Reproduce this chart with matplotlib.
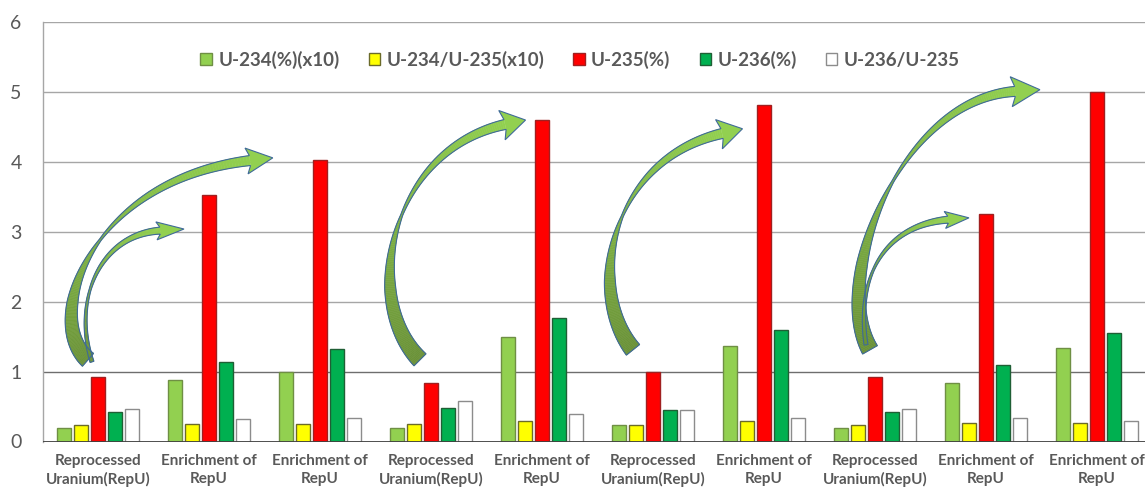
import numpy as np
import matplotlib
matplotlib.use("Agg")
import matplotlib.pyplot as plt
from matplotlib.collections import PolyCollection
from matplotlib.patches import Polygon
from matplotlib.colors import to_rgb

plt.rcParams['font.family'] = ['Lato', 'DejaVu Sans']

# ---- data -------------------------------------------------------------
categories = ["Reprocessed\nUranium(RepU)", "Enrichment of\nRepU", "Enrichment of\nRepU",
              "Reprocessed\nUranium(RepU)", "Enrichment of\nRepU", "Reprocessed\nUranium(RepU)",
              "Enrichment of\nRepU", "Reprocessed\nUranium(RepU)", "Enrichment of\nRepU",
              "Enrichment of\nRepU"]

series_names = ["U-234(%)(x10)", "U-234/U-235(x10)", "U-235(%)", "U-236(%)", "U-236/U-235"]

u234_x10      = [0.20, 0.88, 1.00, 0.20, 1.50, 0.24, 1.37, 0.20, 0.84, 1.34]
u234_u235_x10 = [0.23, 0.25, 0.25, 0.25, 0.30, 0.24, 0.29, 0.23, 0.26, 0.27]
u235          = [0.92, 3.52, 4.02, 0.84, 4.60, 1.00, 4.81, 0.92, 3.26, 5.00]
u236          = [0.42, 1.14, 1.32, 0.48, 1.77, 0.45, 1.59, 0.42, 1.09, 1.55]
u236_u235     = [0.46, 0.32, 0.33, 0.58, 0.39, 0.45, 0.33, 0.46, 0.34, 0.30]

series_values = [u234_x10, u234_u235_x10, u235, u236, u236_u235]
face_colors = ["#92D050", "#FFFF00", "#FF0000", "#00B050", "#FFFFFF"]
edge_colors = ["#6F8F44", "#6B6B2A", "#A02020", "#1F5F35", "#8C8C8C"]

# ---- figure -----------------------------------------------------------
W, H = 1145, 491
fig = plt.figure(figsize=(W / 100, H / 100), dpi=100)
ax = fig.add_axes([42.5 / W, 49.5 / H, 1110 / W, 419.5 / H])
ax.set_xlim(-0.5, len(categories) - 0.5)
ax.set_ylim(0, 6)

x = np.arange(len(categories))
bar_w = 0.126
pitch = 0.153
for k, (vals, fc, ec, name) in enumerate(zip(series_values, face_colors, edge_colors, series_names)):
    ax.bar(x + (k - 2) * pitch, vals, width=bar_w, color=fc, edgecolor=ec,
           linewidth=1.0, label=name, zorder=3)

# grid and frame
for v in range(1, 7):
    ax.axhline(v, color="#A6A6A6" if v != 1 else "#6E6E6E", lw=1.0, zorder=1)
ax.axhline(0, color="#404040", lw=1.3, zorder=4)
for s in ["top", "right", "bottom"]:
    ax.spines[s].set_visible(False)
ax.spines["left"].set_color("#A6A6A6")
ax.spines["left"].set_linewidth(1.0)

ax.set_yticks(range(0, 7))
ax.tick_params(axis="y", length=0, pad=15, labelsize=14, labelcolor="#595959")
ax.set_xticks(x)
ax.set_xticklabels(categories, fontsize=11, fontweight="bold", color="#595959",
                   linespacing=1.35)
ax.tick_params(axis="x", length=0, pad=9)

leg = ax.legend(loc="center", bbox_to_anchor=(580 / W, 1 - 60 / H),
                bbox_transform=fig.transFigure, ncol=5, frameon=False,
                handlelength=0.6, handleheight=0.6, handletextpad=0.35,
                columnspacing=1.55, prop={"size": 13.5, "weight": "bold"})
for t in leg.get_texts():
    t.set_color("#595959")

# ---- curved transition arrows ----------------------------------------
def bezier(p, t):
    p0, p1, p2, p3 = p
    t = t[:, None]
    pts = (1 - t) ** 3 * p0 + 3 * (1 - t) ** 2 * t * p1 + 3 * (1 - t) * t ** 2 * p2 + t ** 3 * p3
    der = 3 * (1 - t) ** 2 * (p1 - p0) + 6 * (1 - t) * t * (p2 - p1) + 3 * t ** 2 * (p3 - p2)
    return pts, der


def curved_arrow(ctrl, w_t, w_v, head_len, head_w,
                 c_tail="#6A9138", c_head="#92D050", outline="#3F6A99"):
    disp = ax.transData.transform(np.array(ctrl))
    t = np.linspace(0, 1, 160)
    pts, der = bezier(disp, t)
    tang = der / np.linalg.norm(der, axis=1)[:, None]
    nrm = np.column_stack([-tang[:, 1], tang[:, 0]])
    w = np.interp(t, w_t, w_v)
    left = pts + nrm * w[:, None] / 2
    right = pts - nrm * w[:, None] / 2

    ca, cb = np.array(to_rgb(c_tail)), np.array(to_rgb(c_head))
    quads, cols = [], []
    for i in range(len(t) - 1):
        quads.append([left[i], left[i + 1], right[i + 1], right[i]])
        cols.append(ca + (cb - ca) * t[i])
    inv = ax.transData.inverted()
    quads_d = [inv.transform(np.array(q)) for q in quads]
    pc = PolyCollection(quads_d, facecolors=cols, edgecolors=cols, linewidths=0.4, zorder=6)
    ax.add_collection(pc)

    base = pts[-1]
    d = tang[-1]
    n = nrm[-1]
    tip = base + d * head_len
    b1 = base - d * head_len * 0.15 + n * head_w / 2
    b2 = base - d * head_len * 0.15 - n * head_w / 2
    head = np.array([left[-1], b1, tip, b2, right[-1]])
    ax.add_patch(Polygon(inv.transform(head), closed=True, facecolor=c_head,
                         edgecolor="none", zorder=6))

    outline_pts = np.vstack([left, [b1, tip, b2], right[::-1]])
    ax.add_patch(Polygon(inv.transform(outline_pts), closed=True, facecolor="none",
                         edgecolor=outline, lw=0.8, zorder=7))


big = ([0, 0.3, 0.55, 0.75, 1.0], [17, 11, 2, 6, 10])
small = ([0, 0.4, 0.8, 1.0], [4, 2, 5, 7])

curved_arrow([(-0.090, 1.168), (-0.505, 1.741), (-0.072, 3.746), (1.369, 4.018)], *big, 23, 26)
curved_arrow([(-0.054, 1.139), (-0.234, 2.030), (0.018, 2.958), (0.559, 3.016)], *small, 24, 18)
curved_arrow([(2.901, 1.168), (2.360, 2.028), (2.631, 4.176), (3.667, 4.534)], *big, 21, 30)
curved_arrow([(4.820, 1.311), (4.387, 2.170), (4.613, 4.033), (5.622, 4.405)], *big, 21, 30)
curved_arrow([(6.955, 1.311), (6.595, 2.314), (7.225, 4.893), (8.261, 5.007)], *big, 25, 30)
curved_arrow([(6.919, 1.383), (6.820, 2.457), (7.135, 3.101), (7.658, 3.173)], *small, 21, 17)

fig.savefig("out.png", dpi=100)
